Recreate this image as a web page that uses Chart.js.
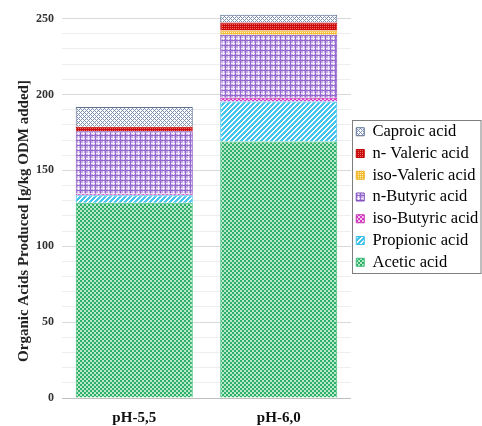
<!DOCTYPE html>
<html>
<head>
<meta charset="utf-8">
<script src="https://cdn.jsdelivr.net/npm/chart.js@4/dist/chart.umd.min.js"></script>
<style>
  html, body { margin: 0; padding: 0; background: #fff; }
  #wrap { width: 482px; height: 426px; }
</style>
</head>
<body>
<div id="wrap"><canvas id="chart"></canvas></div>
<script>
// values (g/kg ODM added)
const categories = ['pH-5,5', 'pH-6,0'];
const acetic     = [128.6, 169.0];
const propionic  = [5.0, 26.4];
const isoButyric = [1.0, 2.4];
const nButyric   = [41.2, 41.6];
const isoValeric = [0.0, 2.8];
const nValeric   = [3.0, 5.3];
const caproic    = [13.0, 5.1];
const yLabels    = [0, 50, 100, 150, 200, 250];
const yGrid = [];
for (let v = 0; v <= 250; v += 10) yGrid.push(v);

const serif = "'Liberation Serif', 'Times New Roman', serif";
const canvas = document.getElementById('chart');
const mainCtx = canvas.getContext('2d');

// small repeating tiles to imitate the Excel pattern fills
function tile(size, paint) {
  const c = document.createElement('canvas');
  c.width = c.height = size;
  const g = c.getContext('2d');
  for (let y = 0; y < size; y++) {
    for (let x = 0; x < size; x++) {
      g.fillStyle = paint(x, y);
      g.fillRect(x, y, 1, 1);
    }
  }
  return mainCtx.createPattern(c, 'repeat');
}

const fills = {
  acetic: tile(4, (x, y) => ((x >> 1) + (y >> 1)) % 2 ? '#b9e9cc' : '#2fb068'),
  propionic: tile(5, (x, y) => (x + y) % 5 < 3 ? '#45c4ee' : '#ffffff'),
  isoButyric: tile(4, (x, y) => ((x >> 1) + (y >> 1)) % 2 ? '#f7c8ef' : '#d53cc3'),
  nButyric: tile(5, (x, y) => (x === 0 || y === 0) ? '#9367cc' : (x === 3 || y === 3) ? '#f1ebf9' : '#c4aae6'),
  isoValeric: tile(4, (x, y) => (x + y) % 2 === 0 && x % 2 === 0 ? '#fff3c4' : '#f4bd35'),
  nValeric: tile(4, (x, y) => (x + y) % 2 === 0 && x % 2 === 0 ? '#ee6a6a' : '#cc0a0a'),
  caproic: tile(4, (x, y) => ((x + y) % 4 === 0 || (x - y + 4) % 4 === 0) ? '#7d90b4' : '#ffffff')
};

const LEGEND_SHIFT = 7.5;
const LEGEND_WIDTH = 131;

const legendBox = {
  id: 'legendBox',
  beforeLayout(chart) {
    // keep the legend wide enough so its clip does not cut the labels
    const lg = chart.legend;
    if (lg && !lg._fixedWidth) {
      const fit = lg.fit.bind(lg);
      lg.fit = function () { fit(); this.width = LEGEND_WIDTH; };
      lg._fixedWidth = true;
    }
  },
  afterLayout(chart) {
    const lg = chart.legend;
    if (!lg) return;
    lg.top -= LEGEND_SHIFT;
    lg.bottom -= LEGEND_SHIFT;
  },
  afterDraw(chart) {
    const lg = chart.legend;
    if (!lg || !lg.legendHitBoxes.length) return;
    const hb = lg.legendHitBoxes;
    const top = Math.round(hb[0].top - 4);
    const bottom = Math.round(hb[hb.length - 1].top + 19);
    const left = Math.round(lg.left + 1);
    const ctx = chart.ctx;
    ctx.save();
    ctx.strokeStyle = '#7f7f7f';
    ctx.lineWidth = 1;
    ctx.strokeRect(left + 0.5, top + 0.5, chart.width - left - 1.5, bottom - top);
    ctx.restore();
  }
};

const yTitle = {
  id: 'yTitle',
  afterDraw(chart) {
    const ctx = chart.ctx;
    ctx.save();
    ctx.translate(24, 221);
    ctx.rotate(-Math.PI / 2);
    ctx.font = 'bold 15px ' + serif;
    ctx.fillStyle = '#222';
    ctx.textAlign = 'center';
    ctx.textBaseline = 'middle';
    ctx.fillText('Organic Acids Produced [g/kg ODM added]', 0, 0);
    ctx.restore();
  }
};

function ds(label, data, fill, border) {
  return { label, data, backgroundColor: fill, borderColor: border, borderWidth: 1 };
}

new Chart(canvas, {
  type: 'bar',
  data: {
    labels: categories,
    datasets: [
      ds('Acetic acid', acetic, fills.acetic, '#3dbb75'),
      ds('Propionic acid', propionic, fills.propionic, '#3bbde8'),
      ds('iso-Butyric acid', isoButyric, fills.isoButyric, '#c832b4'),
      ds('n-Butyric acid', nButyric, fills.nButyric, '#7a46b8'),
      ds('iso-Valeric acid', isoValeric, fills.isoValeric, '#f0b020'),
      ds('n- Valeric acid', nValeric, fills.nValeric, '#c00000'),
      ds('Caproic acid', caproic, fills.caproic, '#5b6f91')
    ]
  },
  options: {
    responsive: true,
    maintainAspectRatio: false,
    animation: false,
    layout: { padding: { top: 11, right: 0, left: 0, bottom: 0 } },
    datasets: { bar: { barPercentage: 0.81, categoryPercentage: 1 } },
    scales: {
      x: {
        stacked: true,
        grid: { display: false, drawTicks: false },
        border: { display: false },
        afterFit: s => { s.height = 28; },
        ticks: { font: { family: serif, size: 15, weight: 'bold' }, color: '#111', padding: 11 }
      },
      y: {
        stacked: true,
        min: 0,
        max: 255,
        afterBuildTicks: s => { s.ticks = yGrid.map(v => ({ value: v })); },
        afterFit: s => { s.width = 62; s.paddingTop = 0; s.paddingBottom = 0; },
        border: { display: false },
        grid: {
          drawTicks: false,
          color: c => c.tick.value === 0 ? '#bfbfbf' : (c.tick.value % 50 === 0 ? '#d9d9d9' : '#eeeeee')
        },
        ticks: {
          autoSkip: false,
          padding: 8,
          color: '#333',
          font: { family: serif, size: 12, weight: 'bold' },
          callback: v => yLabels.includes(v) ? v : ''
        }
      }
    },
    plugins: {
      tooltip: { enabled: false },
      legend: {
        position: 'right',
        reverse: true,
        fullSize: false,
        labels: {
          boxWidth: 8,
          boxHeight: 8,
          padding: 5.25,
          color: '#000',
          font: { family: serif, size: 16.5 }
        }
      }
    }
  },
  plugins: [legendBox, yTitle]
});
</script>
</body>
</html>
